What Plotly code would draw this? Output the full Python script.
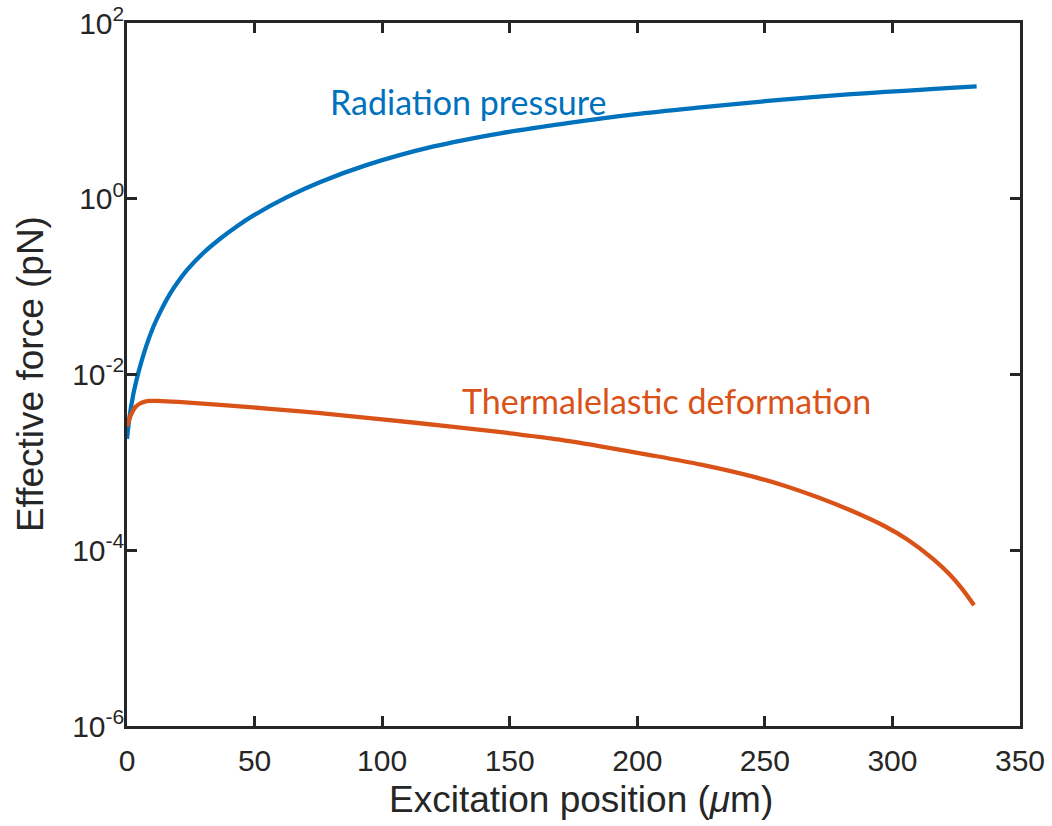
import plotly.graph_objects as go

# Radiation pressure curve (x in um, force in pN)
rp_x = [0, 1, 2.5, 4, 5.1, 7.5, 10.3, 13, 16.9, 20, 23.4, 30, 36.5, 43, 49.6,
        62.7, 75.8, 94.1, 120.2, 146.4, 172.6, 198.7, 224.9, 250, 283.8, 333]
rp_y = [1.86e-3, 3.31e-3, 6.03e-3, 9.33e-3, 1.23e-2, 2.09e-2, 3.47e-2, 5.13e-2,
        8.32e-2, 0.1135, 0.153, 0.243, 0.351, 0.484, 0.646,
        1.042, 1.549, 2.427, 3.936, 5.559, 7.244, 9.120, 10.96, 12.88, 15.49, 19.05]

# Thermalelastic deformation curve
te_x = [0, 1, 1.8, 3.3, 5.1, 7, 9, 12, 20, 36.5, 56, 75.8, 100, 128, 144, 166,
        185, 205, 225, 245, 258, 271, 284, 297, 306, 316, 322, 327, 332]
te_y = [2.582e-3, 3.162e-3, 3.606e-3, 4.266e-3, 4.677e-3, 4.920e-3, 5.012e-3,
        5.000e-3, 4.875e-3, 4.519e-3, 4.074e-3, 3.631e-3, 3.090e-3, 2.541e-3,
        2.249e-3, 1.875e-3, 1.535e-3, 1.213e-3, 9.42e-4, 6.92e-4, 5.38e-4,
        3.98e-4, 2.81e-4, 1.875e-4, 1.318e-4, 7.94e-5, 5.46e-5, 3.73e-5, 2.37e-5]

y_tickvals = [1e-6, 1e-4, 1e-2, 1, 100]
y_ticktext = ["10<sup>-6</sup>", "10<sup>-4</sup>", "10<sup>-2</sup>", "10<sup>0</sup>", "10<sup>2</sup>"]
x_tickvals = [0, 50, 100, 150, 200, 250, 300, 350]

BLUE = "#0072BD"
RED = "#D95319"
AX = "#262626"
TICKFONT = "Arial, Liberation Sans, sans-serif"
LABELFONT = "Lato, Open Sans, sans-serif"

fig = go.Figure()
fig.add_trace(go.Scatter(x=rp_x, y=rp_y, mode="lines",
                         line=dict(color=BLUE, width=4.3, shape="spline", smoothing=0.9),
                         showlegend=False, hoverinfo="skip"))
fig.add_trace(go.Scatter(x=te_x, y=te_y, mode="lines",
                         line=dict(color=RED, width=4.3, shape="spline", smoothing=0.9),
                         showlegend=False, hoverinfo="skip"))

fig.add_annotation(x=133.6, y=1.112, xref="x", yref="y", text="Radiation pressure",
                   showarrow=False, xanchor="center", yanchor="middle",
                   font=dict(family=LABELFONT, size=34, color=BLUE))
fig.add_annotation(x=211.6, y=-2.30, xref="x", yref="y", text="Thermalelastic deformation",
                   showarrow=False, xanchor="center", yanchor="middle",
                   font=dict(family=LABELFONT, size=34, color=RED))

# axis titles
fig.add_annotation(x=-0.108, y=0.5, xref="paper", yref="paper", text="Effective force (pN)",
                   textangle=-90, showarrow=False, xanchor="center", yanchor="middle",
                   font=dict(family=TICKFONT, size=37, color=AX))
fig.add_annotation(x=0.508, y=-0.105, xref="paper", yref="paper",
                   text="Excitation position (<i>μ</i>m)",
                   showarrow=False, xanchor="center", yanchor="middle",
                   font=dict(family=TICKFONT, size=37, color=AX))

axis_common = dict(showline=True, linecolor=AX, linewidth=2.5, mirror="ticks",
                   ticks="inside", ticklen=10, tickwidth=2.5, tickcolor=AX,
                   showgrid=False, zeroline=False,
                   tickfont=dict(family=TICKFONT, size=30, color=AX))

fig.update_xaxes(range=[0, 350], tickvals=x_tickvals, ticklabelstandoff=6, **axis_common)
fig.update_yaxes(type="log", range=[-6, 2], tickvals=y_tickvals, ticktext=y_ticktext,
                 ticklabelstandoff=-6, **axis_common)

fig.update_layout(width=1052, height=826,
                  margin=dict(l=127, r=32, t=23, b=100, autoexpand=False),
                  plot_bgcolor="white", paper_bgcolor="white")

fig.write_html("out.html")
